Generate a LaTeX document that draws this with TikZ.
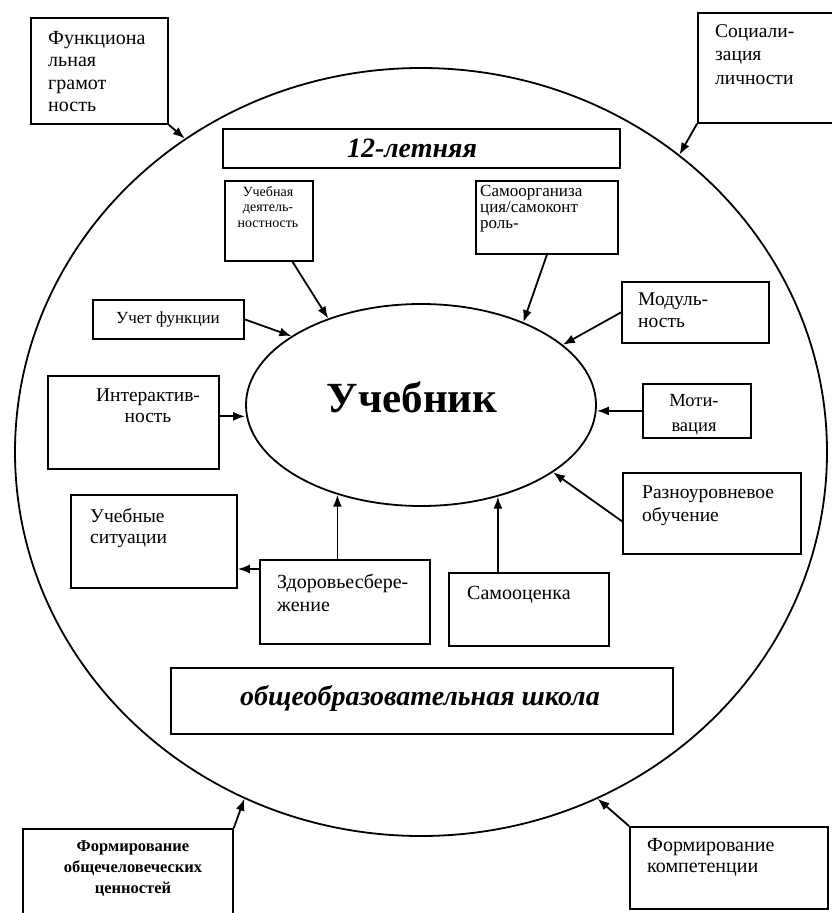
\documentclass[tikz,border=0pt]{standalone}
\usepackage{fontspec}
\setmainfont{Liberation Serif}
\usetikzlibrary{arrows.meta,calc,shapes.geometric}
\begin{document}
\begin{tikzpicture}[x=1pt,y=-1pt,
  frame/.style={draw,line width=1.8pt,rectangle,inner sep=0pt,anchor=north west},
  oval/.style={draw,ellipse,line width=1.8pt,inner sep=0pt},
  arr/.style={line width=1.8pt,-{Latex[length=12pt,width=9pt]}},
  lbl/.style={inner sep=0pt,anchor=north west,align=left},
  lblc/.style={inner sep=0pt,anchor=north,align=center},
  fs/.style={font=\fontsize{19.5}{22}\selectfont},
  fsmall/.style={font=\fontsize{14}{15.6}\selectfont},
  banner/.style={font=\fontsize{28}{32}\selectfont\bfseries\itshape},
]
\clip (0,0) rectangle (832,913);
\fill[white] (0,0) rectangle (832,913);

% big circle and central ellipse
\node[oval,minimum width=812pt,minimum height=768pt] (big) at (421,452) {};
\node[oval,minimum width=350pt,minimum height=202pt] (core) at (421,405) {};
\node[font=\fontsize{43}{47}\selectfont\bfseries] (title) at (412,397) {Учебник};

% outer boxes
\node[frame,minimum width=137pt,minimum height=106pt] (A) at (30,17) {};
\node[lbl,font=\fontsize{20}{22.5}\selectfont] (At) at (48,31) {Функциона\\льная\\грамот\\ность};
\node[frame,minimum width=150pt,minimum height=110pt] (B) at (697,12) {};
\node[lbl,font=\fontsize{19.5}{23.5}\selectfont] (Bt) at (715,24) {Социали-\\зация\\личности};
\node[frame,minimum width=210pt,minimum height=100pt] (O) at (22,828) {};
\node[lblc,font=\fontsize{16.5}{21}\selectfont\bfseries] (Ot) at (133,840) {Формирование\\общечеловеческих\\ценностей};
\node[frame,minimum width=198pt,minimum height=82pt] (P) at (629,826) {};
\node[lbl,font=\fontsize{20}{21}\selectfont] (Pt) at (647,838) {Формирование\\компетенции};

% banners
\node[frame,minimum width=397pt,minimum height=39pt] (C) at (222,128) {};
\node[banner] (Ct) at (412,148) {12-летняя};
\node[frame,minimum width=502pt,minimum height=66pt] (N) at (170,667) {};
\node[banner] (Nt) at (420,698) {общеобразовательная школа};

% inner boxes
\node[frame,minimum width=88pt,minimum height=80pt] (D) at (224,180) {};
\node[lblc,fsmall] (Dt) at (268,186) {Учебная\\деятель-\\ностность};
\node[frame,minimum width=142pt,minimum height=73pt] (E) at (475,180) {};
\node[lbl,font=\fontsize{17}{16}\selectfont] (Et) at (480,185) {Самоорганиза\\ция/самоконт\\роль-};
\node[frame,minimum width=151pt,minimum height=39pt] (F) at (92,299) {};
\node[font=\fontsize{17}{20}\selectfont] (Ft) at (168,319) {Учет функции};
\node[frame,minimum width=171pt,minimum height=93pt] (G) at (47,375) {};
\node[lblc,font=\fontsize{19.5}{21}\selectfont] (Gt) at (148,389) {Интерактив-\\ность};
\node[frame,minimum width=166pt,minimum height=93pt] (H) at (70,494) {};
\node[lbl,font=\fontsize{19.5}{21}\selectfont] (Ht) at (90,508) {Учебные\\ситуации};
\node[frame,minimum width=170pt,minimum height=84pt] (I) at (259,559) {};
\node[lbl,font=\fontsize{20}{23}\selectfont] (It) at (277,574) {Здоровьесбере-\\жение};
\node[frame,minimum width=160pt,minimum height=73pt] (J) at (448,572) {};
\node[lbl,font=\fontsize{20}{23}\selectfont] (Jt) at (467,586) {Самооценка};
\node[frame,minimum width=147pt,minimum height=61pt] (K) at (621,281) {};
\node[lbl,fs] (Kt) at (638,293) {Модуль-\\ность};
\node[frame,minimum width=108pt,minimum height=54pt] (L) at (642,383) {};
\begin{scope}
  \clip (L.north west) rectangle (L.south east);
  \node[lblc,font=\fontsize{18.5}{25}\selectfont] (Lt) at (694,394) {Моти-\\вация};
\end{scope}
\node[frame,minimum width=178pt,minimum height=81pt] (M) at (622,472) {};
\node[lbl,font=\fontsize{19.5}{23}\selectfont] (Mt) at (642,486) {Разноуровневое\\обучение};

% connectors to the big circle
\draw[arr] (A.south east) -- (big.127.6);
\draw[arr] (B.south west) -- (big.49.9);
\draw[arr] (O.north east) -- (big.243.3);
\draw[arr] (P.north west) -- (big.297);

% connectors to the central ellipse
\draw[arr] (D.-60) -- (core.137.6);
\draw[arr] (E.south) -- (core.39.3);
\draw[arr] (F.east) -- (core.152.5);
\draw[arr] (G.4) -- (G.4 -| core.west);
\draw[arr] (K.west) -- (core.23);
\draw[arr] (L.west) -- (L.west -| core.east);
\draw[arr] (M.185) -- (core.333.6);
\draw[arr] (core.227.9 |- I.north) -- (core.227.9);
\draw[arr] (core.310.3 |- J.north) -- (core.310.3);
\coordinate (i1) at ([yshift=-10pt]I.north west);
\draw[arr] (i1) -- (i1 -| H.east);
\end{tikzpicture}
\end{document}
